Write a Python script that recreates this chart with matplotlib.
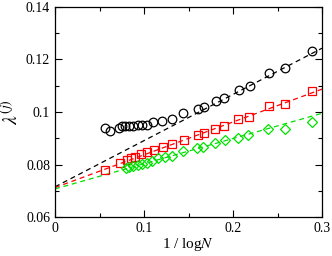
import numpy as np
import matplotlib
matplotlib.use("Agg")
import matplotlib.pyplot as plt
from matplotlib.ticker import MultipleLocator

plt.rcParams['font.family'] = ['Liberation Serif', 'DejaVu Serif']
plt.rcParams['mathtext.fontset'] = 'stix'

# black circles
x_black = [0.0563, 0.0619, 0.0720, 0.0754, 0.0788, 0.0833, 0.0878, 0.0934, 0.0979,
           0.1035, 0.1103, 0.1204, 0.1316, 0.1440, 0.1609, 0.1676, 0.1811, 0.1901,
           0.2070, 0.2194, 0.2408, 0.2588, 0.2891]
y_black = [0.0939, 0.0928, 0.0939, 0.0947, 0.0947, 0.0947, 0.0947, 0.0950, 0.0950,
           0.0950, 0.0962, 0.0966, 0.0973, 0.0996, 0.1011, 0.1019, 0.1042, 0.1053,
           0.1084, 0.1099, 0.1149, 0.1168, 0.1232]

# red squares
x_red = [0.0563, 0.0731, 0.0810, 0.0855, 0.0900, 0.0968, 0.1035, 0.1114, 0.1215,
         0.1316, 0.1451, 0.1609, 0.1676, 0.1800, 0.1901, 0.2059, 0.2183, 0.2408,
         0.2588, 0.2891]
y_red = [0.0779, 0.0806, 0.0817, 0.0825, 0.0829, 0.0840, 0.0848, 0.0855, 0.0867,
         0.0878, 0.0893, 0.0912, 0.0920, 0.0935, 0.0947, 0.0973, 0.0981, 0.1023,
         0.1030, 0.1080]

# green diamonds
x_green = [0.0799, 0.0833, 0.0878, 0.0934, 0.0979, 0.1035, 0.1091, 0.1159, 0.1238,
           0.1316, 0.1440, 0.1598, 0.1665, 0.1800, 0.1913, 0.2059, 0.2171, 0.2396,
           0.2588, 0.2891]
y_green = [0.0787, 0.0791, 0.0794, 0.0798, 0.0802, 0.0806, 0.0813, 0.0825, 0.0829,
           0.0832, 0.0851, 0.0863, 0.0867, 0.0882, 0.0893, 0.0901, 0.0912, 0.0935,
           0.0935, 0.0962]

# linear fits (intercept, slope)
fit_black = (0.0715, 0.176)
fit_red = (0.0712, 0.125)
fit_green = (0.0707, 0.096)

xticks = [0, 0.1, 0.2, 0.3]
xtick_labels = ['0', '0.1', '0.2', '0.3']
yticks = [0.06, 0.08, 0.1, 0.12, 0.14]
ytick_labels = ['0.06', '0.08', '0.1', '0.12', '0.14']

fig = plt.figure(figsize=(3.32, 2.56), dpi=100)
ax = fig.add_axes([0.1657, 0.1523, 0.8043, 0.8204])

xf = np.array([0.0, 0.3])
dash = (0, (4, 3))
for (b, a), c in [(fit_black, 'black'), (fit_red, 'red'), (fit_green, '#00e000')]:
    ax.plot(xf, b + a * xf, color=c, lw=0.9, linestyle=dash)

ax.plot(x_black, y_black, 'o', mfc='none', mec='black', ms=6.2, mew=0.9)
ax.plot(x_red, y_red, 's', mfc='none', mec='red', ms=5.5, mew=0.9)
ax.plot(x_green, y_green, 'D', mfc='none', mec='#00e000', ms=4.6, mew=0.9)

ax.set_xticks(xticks)
ax.set_xticklabels(xtick_labels)
ax.set_yticks(yticks)
ax.set_yticklabels(ytick_labels)
ax.xaxis.set_minor_locator(MultipleLocator(0.05))
ax.yaxis.set_minor_locator(MultipleLocator(0.01))
ax.set_xlim(0, 0.3)
ax.set_ylim(0.06, 0.14)
ax.tick_params(which='both', direction='in', top=True, right=True, labelsize=10, width=0.8)
ax.tick_params(which='major', length=5)
ax.tick_params(which='minor', length=3)
for s in ax.spines.values():
    s.set_linewidth(0.9)

ax.set_xlabel('1 / log$\\mathit{N}$', fontsize=11, labelpad=1)
ax.set_ylabel('$\\lambda^{(j)}$', fontsize=14, labelpad=3)

fig.savefig('out.png', dpi=100)
